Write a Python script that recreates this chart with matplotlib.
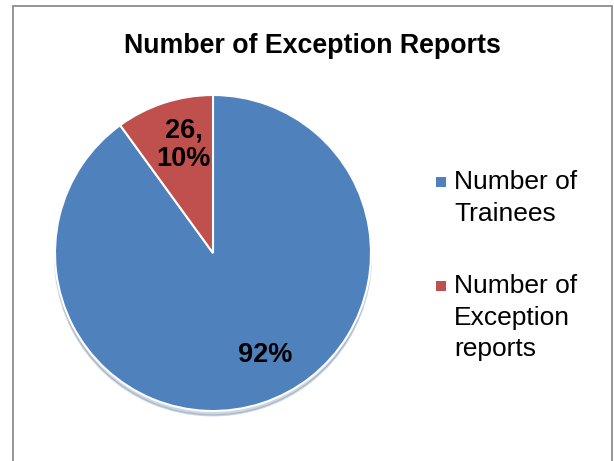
import matplotlib
matplotlib.use("Agg")
import matplotlib.pyplot as plt
from matplotlib.patches import Rectangle

plt.rcParams['font.family'] = ['Liberation Sans', 'DejaVu Sans']

categories = ["Number of\nTrainees", "Number of\nException\nreports"]
values = [234, 26]
slice_labels = ["92%", "26,\n10%"]
colors = ["#4F81BD", "#C0504D"]
title = "Number of Exception Reports"

W, H = 614, 461
fig = plt.figure(figsize=(W / 100, H / 100), dpi=100)

# outer frame
fig.patches.append(Rectangle((13 / W, -0.05), (612 - 13) / W, (H - 6) / H + 0.05,
                             transform=fig.transFigure, fill=False,
                             edgecolor="#8c8c8c", linewidth=1.3))

cx, cy, r = 213, 253, 158
ax = fig.add_axes([(cx - r) / W, (H - cy - r) / H, 2 * r / W, 2 * r / H])
wedges, _ = ax.pie(values, colors=colors, startangle=90, counterclock=False,
                   radius=1, wedgeprops=dict(edgecolor="white", linewidth=1.5),
                   shadow=dict(ox=0, oy=-0.02, shade=0.3, alpha=0.25))
ax.set_xlim(-1, 1)
ax.set_ylim(-1, 1)
ax.set_aspect("equal")
ax.axis("off")

label_pos = [(0.33, -0.645), (-0.185, 0.685)]
for (x, y), t in zip(label_pos, slice_labels):
    ax.text(x, y, t, ha="center", va="center", fontsize=19.5, fontweight="bold",
            color="black", linespacing=1.12)

fig.text(312 / W, 1 - 46 / H, title, ha="center", va="center",
         fontsize=19.3, fontweight="bold")

# legend drawn manually to match layout
leg_tops = [177, 281]
for top, lab, col in zip(leg_tops, categories, colors):
    fig.patches.append(Rectangle((436 / W, 1 - (top + 10) / H), 10 / W, 10 / H,
                                 transform=fig.transFigure, facecolor=col,
                                 edgecolor="none"))
    fig.text(454 / W, 1 - (top - 7) / H, lab, ha="left", va="top",
             fontsize=19, linespacing=1.4)

fig.savefig("out.png", dpi=100)
